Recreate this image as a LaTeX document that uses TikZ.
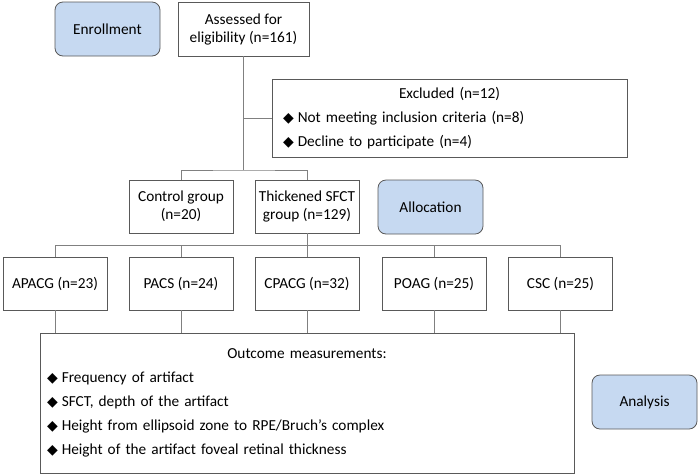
\documentclass[tikz,border=0pt]{standalone}
\usepackage{fontspec}
\setmainfont{Carlito}
\newfontfamily\symf{DejaVu Sans}
\newcommand{\bul}{{\symf\fontsize{14}{14}\selectfont ◆}\hspace{4pt}}
\definecolor{flowblue}{HTML}{C6D9F1}
\definecolor{boxgray}{HTML}{595959}
\definecolor{linegray}{HTML}{808080}

\begin{document}
\begin{tikzpicture}[x=1pt, y=-1pt]
    \tikzstyle{box} = [rectangle, draw=boxgray, line width=0.8pt, align=center, font=\fontsize{15.3}{18}\selectfont, inner sep=2pt, minimum width=104pt, minimum height=53pt]
    \tikzstyle{stage} = [box, rounded corners=8pt, fill=flowblue, minimum width=105pt, minimum height=54pt]
    \tikzstyle{list} = [box, align=left, font=\fontsize{15.3}{24}\selectfont]
    \tikzstyle{link} = [draw=linegray, line width=0.8pt]

    \useasboundingbox (0,0) rectangle (700,475);

    \node[stage] (enrol) at (107.5, 29) {Enrollment};
    \node[box, minimum width=131pt, minimum height=54pt] (assess) at (243.5, 29) {Assessed for\\eligibility (n=161)};
    \node[list, text width=333pt, inner xsep=11pt, minimum height=78pt] (excl) at (449.5, 118)
        {\makebox[333pt]{Excluded (n=12)}\\ \bul Not meeting inclusion criteria (n=8)\\ \bul Decline to participate (n=4)};

    \node[box] (ctrl) at (181, 206.5) {Control group\\(n=20)};
    \node[box] (thick) at (307, 206.5) {Thickened SFCT\\group (n=129)};
    \node[stage] (alloc) at (430.5, 207) {Allocation};

    \node[box] (apacg) at (55, 283.5) {APACG (n=23)};
    \node[box] (pacs) at (181, 283.5) {PACS (n=24)};
    \node[box] (cpacg) at (307, 283.5) {CPACG (n=32)};
    \node[box] (poag) at (434, 283.5) {POAG (n=25)};
    \node[box] (csc) at (560.5, 283.5) {CSC (n=25)};

    \node[list, text width=520pt, inner xsep=7pt, minimum height=140pt] (outc) at (307, 403)
        {\makebox[520pt]{Outcome measurements:}\\ \bul Frequency of artifact\\ \bul SFCT, depth of the artifact\\
         \bul Height from ellipsoid zone to RPE/Bruch’s complex\\ \bul Height of the artifact foveal retinal thickness};
    \node[stage] (anal) at (644.5, 402) {Analysis};

    \coordinate (split) at (243.5, 170);
    \coordinate (bus) at (307, 245);

    \draw[link] (assess) -- (split);
    \draw[link] (assess.south |- excl.west) -- (excl);
    \draw[link] (ctrl.north) |- (split) -| (thick.north);
    \draw[link] (thick) -- (bus);
    \draw[link] (apacg.north |- bus) -- (csc.north |- bus);
    \foreach \grp in {apacg, pacs, cpacg, poag, csc}
    \draw[link] (\grp.north) -- (\grp.north |- bus) (\grp.south) -- (\grp.south |- outc.north);
\end{tikzpicture}
\end{document}
